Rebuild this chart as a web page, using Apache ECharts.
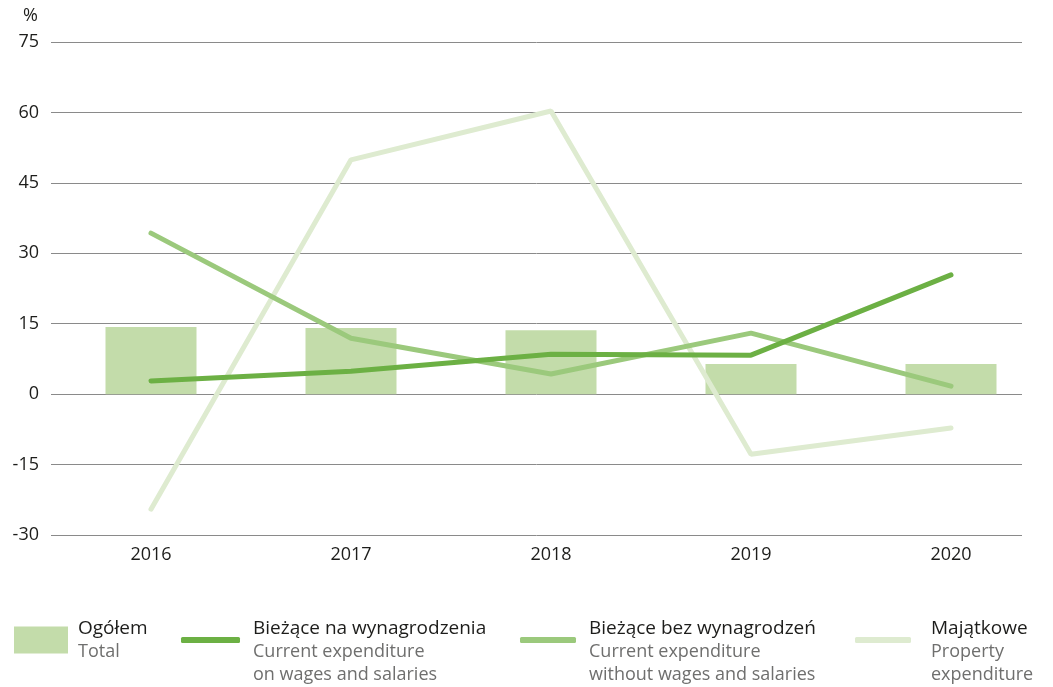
<!DOCTYPE html>
<html>
<head>
<meta charset="utf-8">
<script src="https://cdn.jsdelivr.net/npm/echarts@6/dist/echarts.min.js"></script>
<style>
  html, body { margin: 0; padding: 0; background: #fff; }
  #chart { width: 1053px; height: 687px; }
</style>
</head>
<body>
<div id="chart"></div>
<script>
// data
var years = ['2016', '2017', '2018', '2019', '2020']
var total = [14.3, 14.1, 13.6, 6.4, 6.4]
var wages = [2.8, 4.9, 8.5, 8.3, 25.4]
var noWages = [34.3, 11.9, 4.3, 13.0, 1.7]
var property = [-24.5, 49.9, 60.3, -12.8, -7.2]

var names = ['Ogółem', 'Bieżące na wynagrodzenia', 'Bieżące bez wynagrodzeń', 'Majątkowe']
var subs = [['Total'], ['Current expenditure', 'on wages and salaries'], ['Current expenditure', 'without wages and salaries'], ['Property', 'expenditure']]

var font = 'Open Sans'

function legendFor (i, left, w, h, icon, gap) {
  var lines = subs[i]
  return {
    data: [names[i]],
    left: left,
    top: lines.length > 1 ? 594 : 617,
    padding: 0,
    itemWidth: w,
    itemHeight: h,
    icon: icon,
    selectedMode: false,
    formatter: function (n) {
      var s = '{a|' + n + '}'
      lines.forEach(function (l) { s += '\n{b|' + l + '}' })
      // blank first line so the icon sits between the first two lines
      return lines.length > 1 ? '{e| }\n' + s : s
    },
    textStyle: {
      lineHeight: 23,
      rich: {
        e: { fontSize: 18, lineHeight: 23, padding: [0, 0, 0, gap] },
        a: { fontFamily: font, fontSize: 19, lineHeight: 23, color: '#1d1d1b', padding: [0, 0, 0, gap] },
        b: { fontFamily: font, fontSize: 18, lineHeight: 23, color: '#6f6f6e', padding: [0, 0, 0, gap] }
      }
    }
  }
}

var chart = echarts.init(document.getElementById('chart'))
chart.setOption({
  animation: false,
  grid: [
    { left: 51, right: 31, top: 42, bottom: 152 },
    { left: 51, right: 2, top: 42, bottom: 152 }
  ],
  legend: [
    legendFor(0, 14, 54, 27, 'rect', 5),
    legendFor(1, 181, 59, 6, 'roundRect', 8),
    legendFor(2, 520, 56, 6, 'roundRect', 8),
    legendFor(3, 855, 56, 6, 'roundRect', 15)
  ],
  xAxis: [
    { type: 'category', gridIndex: 0, data: years, show: false },
    {
      type: 'category',
      gridIndex: 1,
      data: years,
      axisLine: { show: false },
      axisTick: { show: false },
      axisLabel: { fontFamily: font, fontSize: 18, color: '#1d1d1b', margin: 11 }
    }
  ],
  yAxis: [
    {
      type: 'value',
      gridIndex: 0,
      min: -30,
      max: 75,
      interval: 15,
      name: '%',
      nameLocation: 'end',
      nameGap: 17,
      nameTextStyle: { fontFamily: font, fontSize: 18, color: '#1d1d1b', align: 'right', padding: [0, 13, 0, 0] },
      axisLine: { show: false },
      axisTick: { show: false },
      axisLabel: { fontFamily: font, fontSize: 18, color: '#1d1d1b', margin: 12 },
      splitLine: { lineStyle: { color: '#8a8a8a', width: 1 } }
    },
    { type: 'value', gridIndex: 1, min: -30, max: 75, interval: 15, show: false, splitLine: { show: false } }
  ],
  series: [
    {
      name: names[0],
      type: 'bar',
      xAxisIndex: 1,
      yAxisIndex: 1,
      data: total,
      barWidth: 91,
      itemStyle: { color: '#c3dcaa' },
      z: 1
    },
    {
      name: names[3],
      type: 'line',
      xAxisIndex: 1,
      yAxisIndex: 1,
      data: property,
      showSymbol: false,
      color: '#deebd0',
      lineStyle: { width: 5, color: '#deebd0', cap: 'round' },
      z: 2
    },
    {
      name: names[2],
      type: 'line',
      xAxisIndex: 1,
      yAxisIndex: 1,
      data: noWages,
      showSymbol: false,
      color: '#9bc97c',
      lineStyle: { width: 5, color: '#9bc97c', cap: 'round' },
      z: 3
    },
    {
      name: names[1],
      type: 'line',
      xAxisIndex: 1,
      yAxisIndex: 1,
      data: wages,
      showSymbol: false,
      color: '#6cb044',
      lineStyle: { width: 5, color: '#6cb044', cap: 'round' },
      z: 4
    }
  ]
})
</script>
</body>
</html>
